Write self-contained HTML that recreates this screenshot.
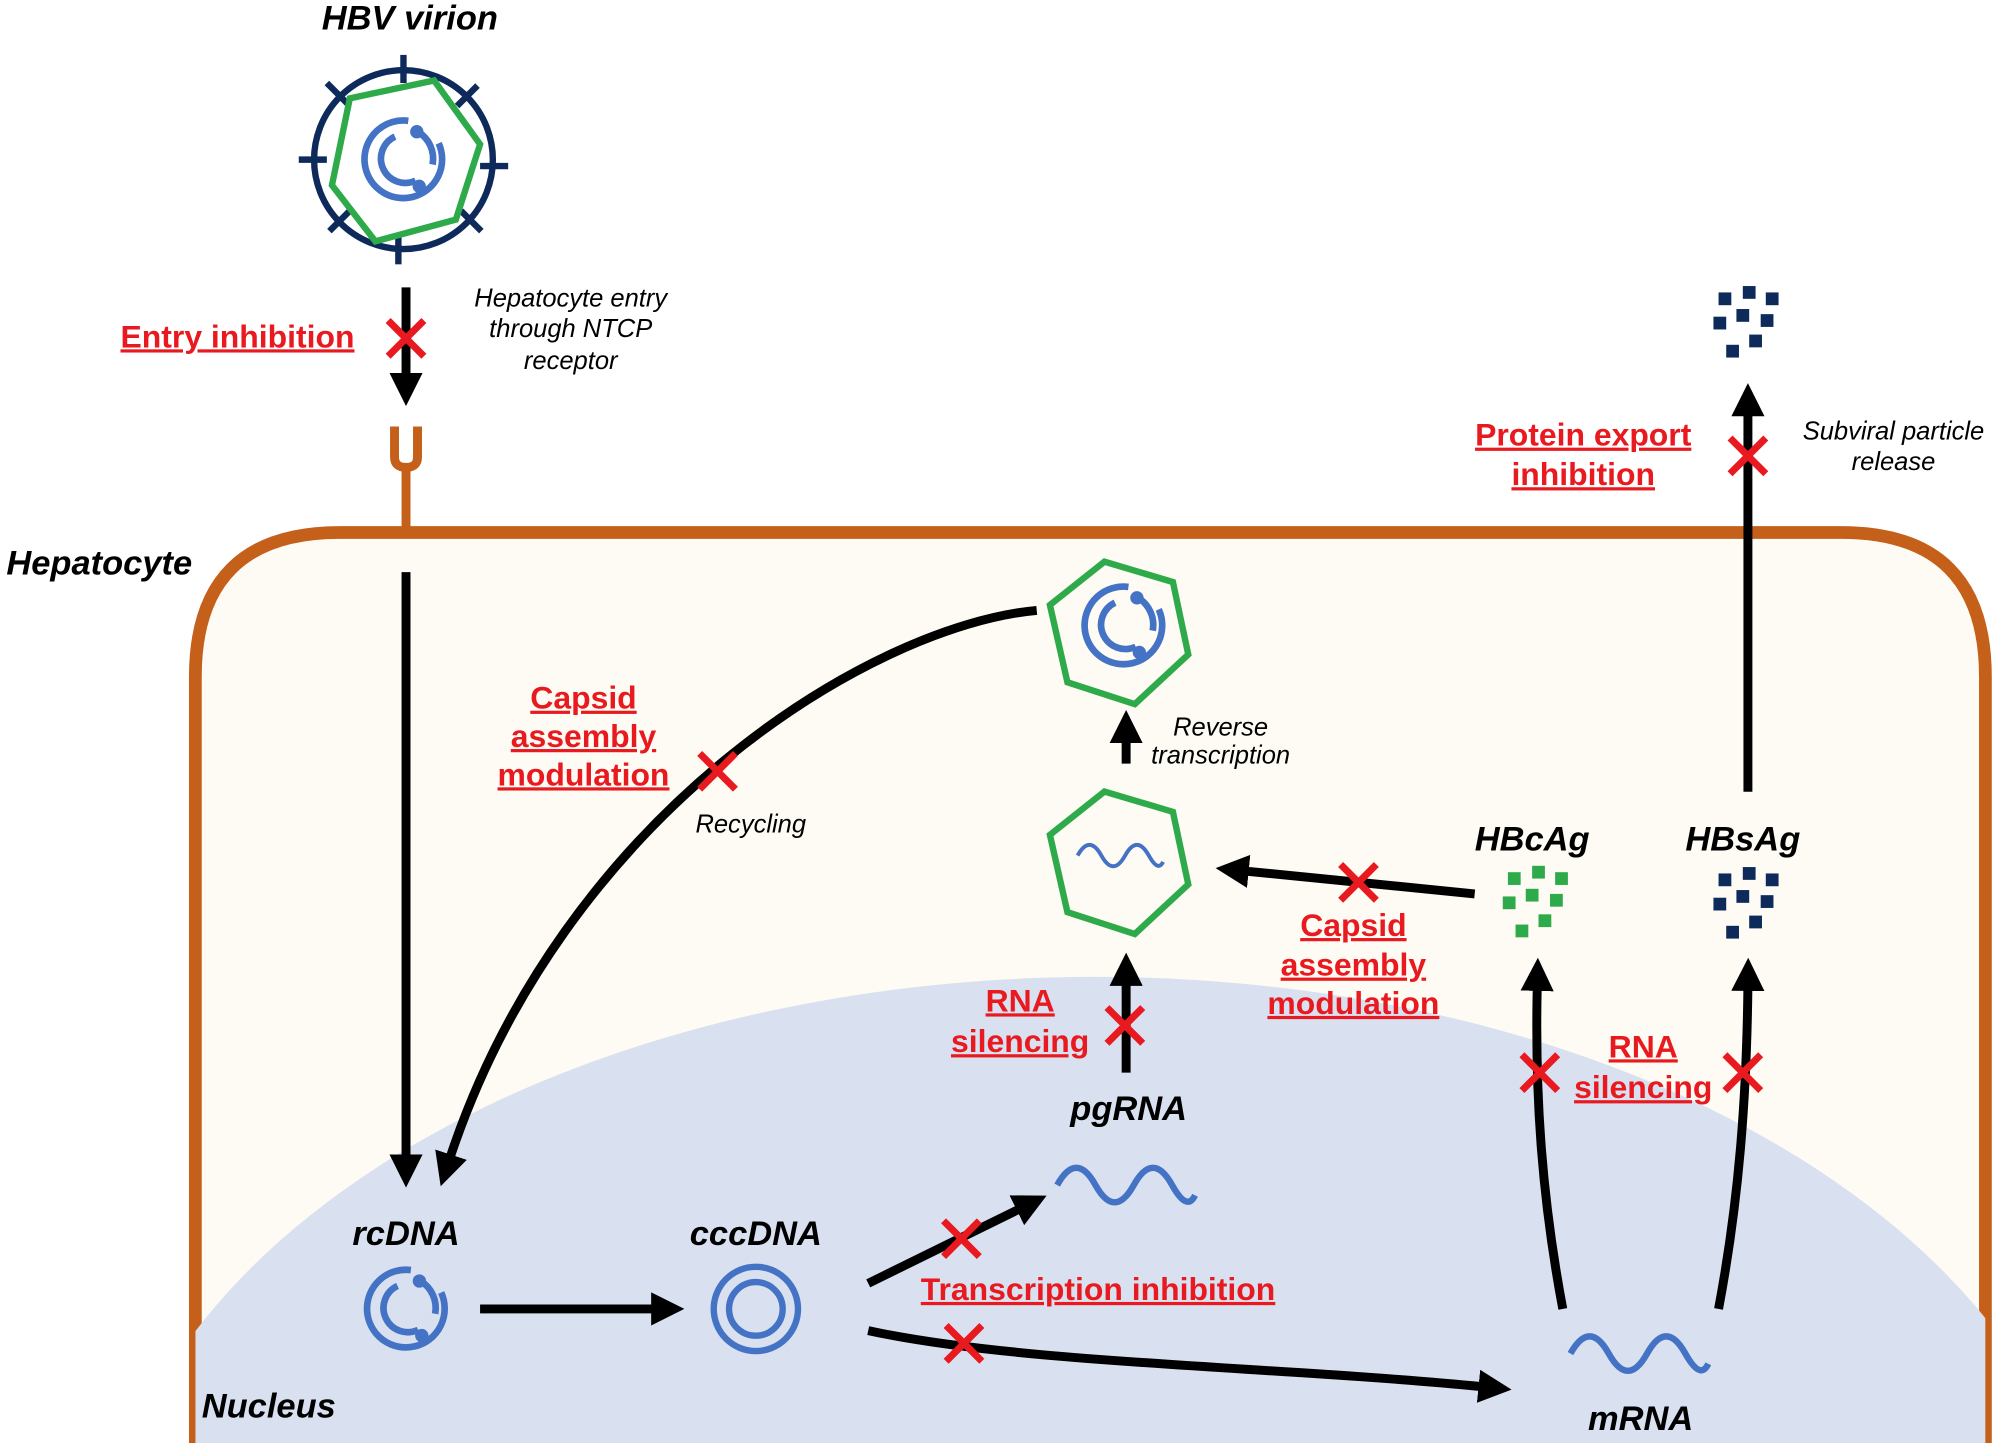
<!DOCTYPE html>
<html><head><meta charset="utf-8"><style>html,body{margin:0;padding:0;background:#fff;overflow:hidden;width:2002px;height:1443px}svg{display:block}</style></head>
<body>
<svg width="2002" height="1443" viewBox="0 0 1568 1130" preserveAspectRatio="none" xmlns="http://www.w3.org/2000/svg" font-family="Liberation Sans, sans-serif">
<defs>
<marker id="ah" markerUnits="userSpaceOnUse" markerWidth="26" markerHeight="26" viewBox="0 0 26 26" refX="4" refY="13" orient="auto"><path d="M0,0 L26,13 L0,26 Z" fill="#000"/></marker>
<clipPath id="cell"><path d="M153,1130 L153,530 Q153,417 266,417 L1442,417 Q1555,417 1555,530 L1555,1130 Z"/></clipPath>
<g id="x"><path d="M-14,-14 L14,14 M14,-14 L-14,14" stroke="#e8191f" stroke-width="5.5" fill="none"/></g>
<g id="rcdna" fill="none">
<path d="M4,-32 A32,32 0 1 0 29,-13.5" stroke="#4472c4" stroke-width="5.5" fill="none"/>
<path d="M-7,-19 A20,20 0 1 0 10,17.3" stroke="#4472c4" stroke-width="5.5" fill="none"/>
<path d="M12,-23 A26,26 0 0 1 24,4" stroke="#4472c4" stroke-width="5.5" fill="none"/>
<circle cx="11" cy="-23" r="5.5" fill="#4472c4"/><circle cx="13" cy="22" r="5.5" fill="#4472c4"/></g>
<g id="wave"><path d="M-50,0 C-40,-18 -30,-18 -20,0 S0,18 10,0 S30,-18 40,0 S55,14 58,8" stroke="#4472c4" stroke-width="5" fill="none"/></g>
<g id="sq"><rect x="-5" y="-34" width="10" height="10"/><rect x="-24" y="-29" width="10" height="10"/><rect x="13" y="-29" width="10" height="10"/><rect x="-10" y="-16" width="10" height="10"/><rect x="9" y="-12" width="10" height="10"/><rect x="-28" y="-10" width="10" height="10"/><rect x="0" y="4" width="10" height="10"/><rect x="-18" y="12" width="10" height="10"/></g>
</defs>
<path d="M153,1130 L153,530 Q153,417 266,417 L1442,417 Q1555,417 1555,530 L1555,1130" fill="#fdfbf3" stroke="#c4601a" stroke-width="10"/>
<ellipse cx="858" cy="1250" rx="780" ry="485" fill="#d9e0f0" clip-path="url(#cell)"/>
<path d="M309,334 L309,358 Q309,366 318,366 Q327,366 327,358 L327,334" stroke="#c4601a" stroke-width="7" fill="none"/>
<line x1="318" y1="366" x2="318" y2="414" stroke="#c4601a" stroke-width="7"/>
<g transform="translate(316,125)">
<circle r="70" stroke="#0d2a5a" stroke-width="5" fill="none"/>
<g stroke="#0d2a5a" stroke-width="5"><line x1="0" y1="-82" x2="0" y2="-60"/><line x1="-4" y1="60" x2="-4" y2="82"/><line x1="-82" y1="0" x2="-60" y2="0"/><line x1="60" y1="5" x2="82" y2="5"/>
<line x1="-60" y1="-60" x2="-42" y2="-42"/><line x1="42" y1="-42" x2="58" y2="-58"/><line x1="-58" y1="56" x2="-42" y2="40"/><line x1="45" y1="40" x2="61" y2="56"/></g>
<path d="M-42,-48 L24,-62 L60,-12 L41,47 L-22,64 L-56,20 Z" stroke="#2eaa4a" stroke-width="5" fill="none"/>
<g transform="scale(0.95)"><use href="#rcdna"/></g>
</g>
<g transform="translate(880,490)"><path d="M-6,-52 L44,-27 L46,31 L-2,62 L-51,36 L-54,-26 Z" transform="rotate(-10)" stroke="#2eaa4a" stroke-width="5" fill="#fdfbf3"/><g transform="scale(0.95)"><use href="#rcdna"/></g></g>
<g transform="translate(880,670)"><path d="M-6,-52 L44,-27 L46,31 L-2,62 L-51,36 L-54,-26 Z" transform="rotate(-10)" stroke="#2eaa4a" stroke-width="5" fill="#fdfbf3"/><g transform="translate(-5,0) scale(0.62)"><use href="#wave"/></g></g>
<g stroke="#000" stroke-width="7" fill="none" marker-end="url(#ah)">
<line x1="318" y1="225" x2="318" y2="296"/>
<line x1="318" y1="448" x2="318" y2="908"/>
<path d="M812,478 C680,490 440,640 352,908"/>
<line x1="376" y1="1025" x2="514" y2="1025"/>
<line x1="680" y1="1005" x2="800" y2="946"/>
<path d="M680,1042 C800,1068 1000,1070 1162,1086"/>
<line x1="882" y1="840" x2="882" y2="768"/>
<line x1="882" y1="598" x2="882" y2="578"/>
<line x1="1155" y1="700" x2="974" y2="682"/>
<path d="M1224,1025 C1208,940 1202,860 1204,772"/>
<path d="M1346,1025 C1362,940 1368,860 1369,772"/>
<line x1="1369" y1="620" x2="1369" y2="322"/>
</g>
<g transform="translate(318,1025) scale(0.95)"><use href="#rcdna"/></g>
<g transform="translate(592,1025)"><circle r="33" stroke="#4472c4" stroke-width="5" fill="none"/><circle r="21" stroke="#4472c4" stroke-width="5" fill="none"/></g>
<g transform="translate(878,928)"><use href="#wave"/></g>
<g transform="translate(1280,1060)"><use href="#wave"/></g>
<g fill="#2eaa4a" transform="translate(1205,712)"><use href="#sq"/></g>
<g fill="#0d2a5a" transform="translate(1370,713)"><use href="#sq"/></g>
<g fill="#0d2a5a" transform="translate(1370,258)"><use href="#sq"/></g>
<use href="#x" x="318" y="265"/>
<use href="#x" x="1369" y="357"/>
<use href="#x" x="562" y="604"/>
<use href="#x" x="1064" y="691"/>
<use href="#x" x="881" y="803"/>
<use href="#x" x="1206" y="840"/>
<use href="#x" x="1365" y="840"/>
<use href="#x" x="753" y="970"/>
<use href="#x" x="755" y="1052"/>
<g font-weight="bold" font-style="italic" font-size="27" fill="#000">
<text x="321" y="23" text-anchor="middle">HBV virion</text>
<text x="5" y="450">Hepatocyte</text>
<text x="1200" y="666" text-anchor="middle">HBcAg</text>
<text x="1365" y="666" text-anchor="middle">HBsAg</text>
<text x="884" y="877" text-anchor="middle">pgRNA</text>
<text x="318" y="975" text-anchor="middle">rcDNA</text>
<text x="592" y="975" text-anchor="middle">cccDNA</text>
<text x="1285" y="1120" text-anchor="middle">mRNA</text>
<text x="158" y="1110">Nucleus</text>
</g>
<g font-style="italic" font-size="20" fill="#000" text-anchor="middle">
<text x="447" y="240">Hepatocyte entry</text><text x="447" y="264">through NTCP</text><text x="447" y="289">receptor</text>
<text x="1483" y="344">Subviral particle</text><text x="1483" y="368">release</text>
<text x="956" y="576">Reverse</text><text x="956" y="598">transcription</text>
<text x="588" y="652">Recycling</text>
</g>
<g font-weight="bold" font-size="25" fill="#e8191f" text-anchor="middle" text-decoration="underline">
<text x="186" y="272">Entry inhibition</text>
<text x="1240" y="349">Protein export</text><text x="1240" y="380">inhibition</text>
<text x="457" y="555">Capsid</text><text x="457" y="585">assembly</text><text x="457" y="615">modulation</text>
<text x="1060" y="733">Capsid</text><text x="1060" y="764">assembly</text><text x="1060" y="794">modulation</text>
<text x="799" y="792">RNA</text><text x="799" y="824">silencing</text>
<text x="1287" y="828">RNA</text><text x="1287" y="860">silencing</text>
<text x="860" y="1018">Transcription inhibition</text>
</g>
</svg>
</body></html>
